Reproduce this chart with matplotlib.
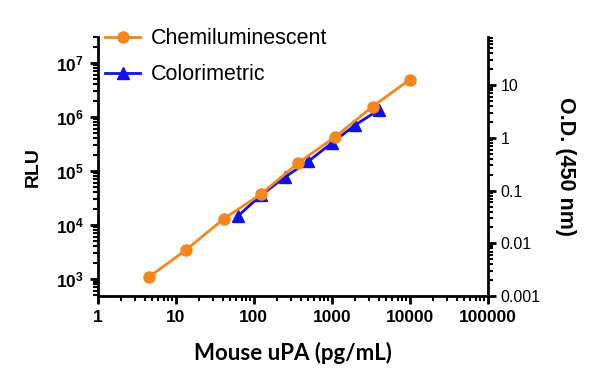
import matplotlib.pyplot as plt
import numpy as np

# Chemiluminescent standard curve (left axis, RLU)
chemi_conc = [4.57, 13.7, 41.2, 123, 370, 1111, 3333, 10000]
chemi_rlu = [1100, 3500, 13000, 37000, 140000, 430000, 1550000, 4900000]

# Colorimetric standard curve (right axis, O.D. 450 nm)
color_conc = [62.5, 125, 250, 500, 1000, 2000, 4000]
color_od = [0.033, 0.083, 0.18, 0.36, 0.80, 1.76, 3.4]

orange = '#F7861C'
blue = '#1010E8'

plt.rcParams['font.family'] = ['Liberation Sans', 'DejaVu Sans']

fig = plt.figure(figsize=(6, 3.86), dpi=100)
ax = fig.add_axes([0.163, 0.233, 0.65, 0.671])
ax2 = ax.twinx()

l1, = ax.plot(chemi_conc, chemi_rlu, '-o', color=orange, markersize=8, lw=2,
              label='Chemiluminescent', zorder=3)
l2, = ax2.plot(color_conc, color_od, '-^', color=blue, markersize=8, lw=2,
               label='Colorimetric', zorder=2)
ax.set_zorder(ax2.get_zorder() + 1)
ax.patch.set_visible(False)

ax.set_xscale('log')
ax.set_yscale('log')
ax2.set_yscale('log')
ax.set_xlim(1, 100000)
ax.set_ylim(484, 3.0e7)
ax2.set_ylim(0.001, 82)

ax.set_xticks([1, 10, 100, 1000, 10000, 100000])
ax.set_xticklabels(['1', '10', '100', '1000', '10000', '100000'])
ax.set_yticks([1e3, 1e4, 1e5, 1e6, 1e7])
ax2.set_yticks([0.001, 0.01, 0.1, 1, 10])
ax2.set_yticklabels(['0.001', '0.01', '0.1', '1', '10'])

for a in (ax, ax2):
    for s in a.spines.values():
        s.set_linewidth(2)
    a.spines['top'].set_visible(False)
ax.spines['right'].set_visible(False)
ax2.spines['left'].set_visible(False)
ax2.spines['bottom'].set_visible(False)

ax.tick_params(axis='both', which='major', length=6, width=2, labelsize=12.5, pad=4)
ax.tick_params(axis='both', which='minor', length=3.5, width=1.5)
ax2.tick_params(axis='y', which='major', length=6, width=2, labelsize=11.5, pad=3)
ax2.tick_params(axis='y', which='minor', length=3.5, width=1.5)
for lab in ax.get_xticklabels() + ax.get_yticklabels():
    lab.set_fontweight('bold')
    lab.set_family(['Liberation Sans', 'DejaVu Sans'])
for lab in ax2.get_yticklabels():
    lab.set_family(['Liberation Sans', 'DejaVu Sans'])

ax.set_xlabel('Mouse uPA (pg/mL)', fontsize=16, fontweight='bold',
              family=['Lato', 'DejaVu Sans'], labelpad=12)
ax.set_ylabel('RLU', fontsize=14, fontweight='bold', labelpad=10)
ax2.set_ylabel('O.D. (450 nm)', fontsize=15.5, fontweight='bold', rotation=270,
               labelpad=26)

ax.legend(handles=[l1, l2], loc='upper left', bbox_to_anchor=(-0.03, 1.108),
          frameon=False, fontsize=15.5, handlelength=1.6, handletextpad=0.5,
          labelspacing=0.68)

fig.savefig('out.png', dpi=100)
